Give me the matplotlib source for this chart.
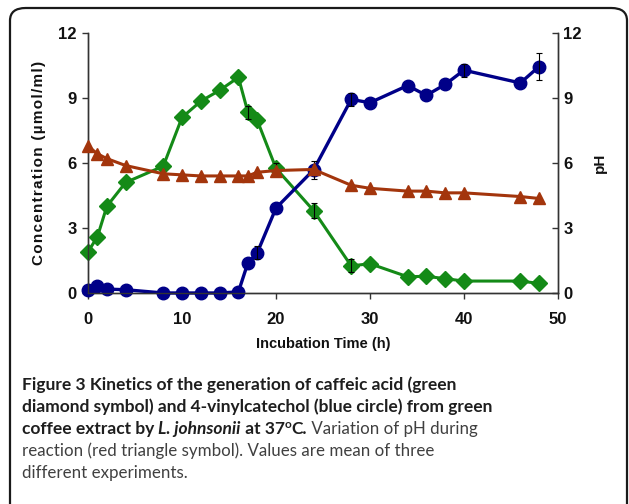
import numpy as np
import matplotlib
matplotlib.use('Agg')
import matplotlib.pyplot as plt
from matplotlib.patches import FancyBboxPatch

# Sampling times (h)
time = [0, 1, 2, 4, 8, 10, 12, 14, 16, 17, 18, 20, 24, 28, 30, 34, 36, 38, 40, 46, 48]

# Caffeic acid (umol/ml) - green diamonds
caffeic = [1.9, 2.6, 4.0, 5.1, 5.85, 8.1, 8.85, 9.35, 9.95, 8.35, 7.97, 5.75, 3.8,
           1.25, 1.35, 0.75, 0.77, 0.66, 0.55, 0.55, 0.44]
# 4-vinylcatechol (umol/ml) - blue circles
vinyl = [0.15, 0.32, 0.18, 0.15, 0.0, 0.0, 0.0, 0.0, 0.05, 1.38, 1.85, 3.92, 5.68,
         8.93, 8.78, 9.57, 9.12, 9.62, 10.28, 9.69, 10.45]
# pH - red triangles
ph = [6.77, 6.42, 6.2, 5.88, 5.5, 5.45, 5.4, 5.4, 5.4, 5.4, 5.57, 5.65, 5.7,
      4.97, 4.83, 4.7, 4.7, 4.62, 4.62, 4.45, 4.36]

# error bars (only where visible)
caffeic_err_t = [17, 20, 24, 28]
caffeic_err = [0.3, 0.25, 0.35, 0.3]
vinyl_err_t = [18, 24, 28, 40, 48]
vinyl_err = [0.3, 0.4, 0.3, 0.3, 0.6]

xticks = [0, 10, 20, 30, 40, 50]
yticks = [0, 3, 6, 9, 12]

green = '#148a17'
blue = '#000088'
red = '#a3350c'

AX_FONT = ['Liberation Sans', 'DejaVu Sans']

fig = plt.figure(figsize=(6.29, 5.04), dpi=100)
ax = fig.add_axes([0.14, 0.4187, 0.747, 0.516])
ax2 = ax.twinx()

ax.plot(time, caffeic, color=green, lw=2.2, marker='D', ms=8, clip_on=False, zorder=3)
ax.plot(time, vinyl, color=blue, lw=2.4, marker='o', ms=9, clip_on=False, zorder=4)
ax2.plot(time, ph, color=red, lw=2.2, marker='^', ms=8.5, clip_on=False, zorder=3)

idx = [time.index(t) for t in caffeic_err_t]
ax.errorbar(caffeic_err_t, [caffeic[i] for i in idx], yerr=caffeic_err, fmt='none',
            ecolor='black', elinewidth=0.8, capsize=2.5, capthick=0.8, zorder=5)
idx = [time.index(t) for t in vinyl_err_t]
ax.errorbar(vinyl_err_t, [vinyl[i] for i in idx], yerr=vinyl_err, fmt='none',
            ecolor='black', elinewidth=0.8, capsize=2.5, capthick=0.8, zorder=5)

for a in (ax, ax2):
    a.set_xlim(0, 50)
    a.set_ylim(0, 12)
    a.set_yticks(yticks)
    a.set_yticklabels([str(v) for v in yticks], family=AX_FONT, weight='bold', fontsize=12)
    a.spines['top'].set_visible(False)
    for s in a.spines.values():
        s.set_color('#333333')
        s.set_linewidth(1.0)
    a.tick_params(length=4, width=1, color='#333333', pad=4, labelcolor='#111111')
ax2.tick_params(axis='y', direction='in', pad=4)
ax.tick_params(axis='x', pad=10)
ax.set_xticks(xticks)
ax.set_xticklabels([str(v) for v in xticks], family=AX_FONT, weight='bold', fontsize=12)

ax.set_xlabel('Incubation Time (h)', family=AX_FONT, weight='bold', fontsize=10.5,
              labelpad=7, color='#111111')
ylab = '\u200a'.join('Concentration (µmol/ml)')
ax.set_ylabel(ylab, family=AX_FONT, weight='bold', fontsize=11, labelpad=9, color='#111111')
ax2.set_ylabel('pH', family=AX_FONT, weight='bold', fontsize=11, labelpad=8, color='#111111')

# rounded frame
frame = FancyBboxPatch((10 / 629, -0.1), 617 / 629, (504 - 8) / 504 + 0.1,
                       boxstyle='round,pad=0,rounding_size=0.025', transform=fig.transFigure,
                       fill=False, edgecolor='#1a1a1a', lw=1.6, zorder=0)
fig.patches.append(frame)

# caption
CAP = ['Lato', 'DejaVu Sans']
renderer = fig.canvas.get_renderer()


def write_line(pieces, x, y):
    for txt, kw in pieces:
        size = kw.pop('size', 12.5)
        t = fig.text(x, y, txt, transform=None, fontsize=size, family=CAP, va='baseline', **kw)
        x = t.get_window_extent(renderer).x1
    return x


B = dict(weight='bold', color='#1e1e1e')
BI = dict(weight='bold', style='italic', color='#1e1e1e')
R = dict(weight='normal', color='#404040', size=12.2)

x0 = 22
write_line([('Figure 3 Kinetics of the generation of caffeic acid (green', dict(B))], x0, 504 - 390)
write_line([('diamond symbol) and 4-vinylcatechol (blue circle) from green', dict(B))], x0, 504 - 412)
xs = write_line([('coffee extract by ', dict(B)), ('L. johnsonii', dict(BI)), (' at 37', dict(B))],
                x0, 504 - 434)
xs = write_line([('o', dict(B, size=8.5))], xs, 504 - 428)
write_line([('C.', dict(B)), (' Variation of pH during', dict(R))], xs, 504 - 434)
write_line([('reaction (red triangle symbol). Values are mean of three', dict(R))], x0, 504 - 456)
write_line([('different experiments.', dict(R))], x0, 504 - 478)

fig.savefig('out.png', dpi=100)
